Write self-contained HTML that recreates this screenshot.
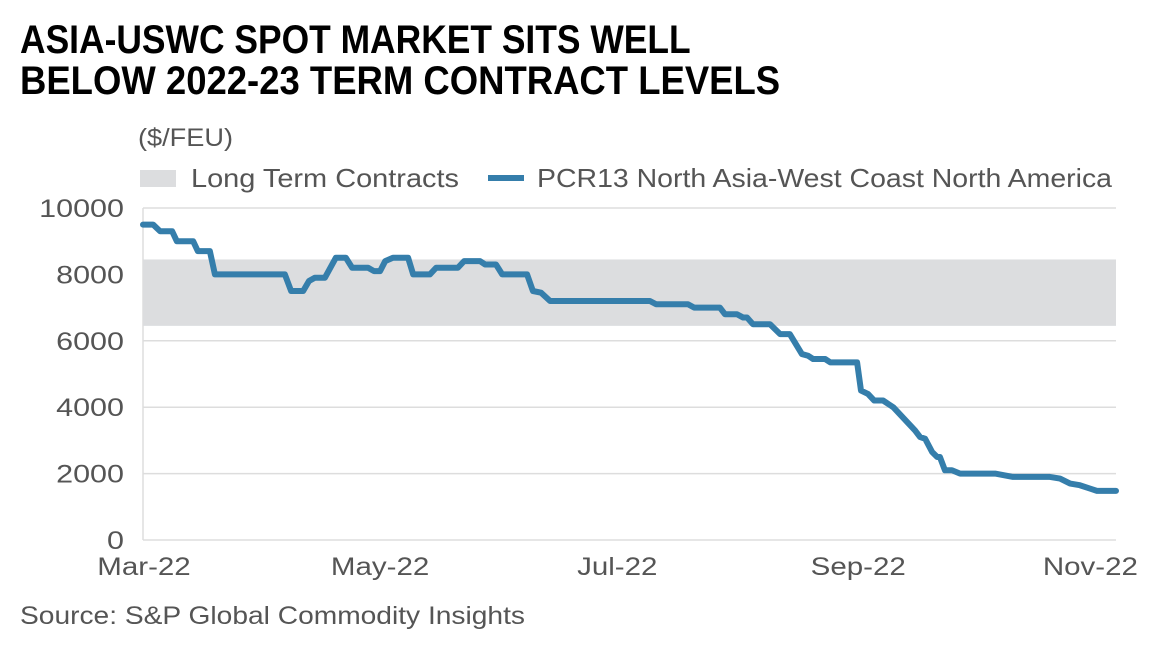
<!DOCTYPE html>
<html><head><meta charset="utf-8"><style>
body{margin:0;background:#fff;width:1166px;height:650px;overflow:hidden;font-family:"Liberation Sans",sans-serif}
.t{position:absolute;left:20px;font-weight:bold;font-size:40px;color:#000;white-space:nowrap;transform-origin:0 0;line-height:1}
</style></head><body>
<div class="t" style="top:20px;transform:scaleX(0.885)">ASIA-USWC SPOT MARKET SITS WELL</div>
<div class="t" style="top:61px;transform:scaleX(0.912)">BELOW 2022-23 TERM CONTRACT LEVELS</div>
<svg id="c" width="1166" height="650" style="position:absolute;left:0;top:0"></svg>
<script>
const days=[0,2.6,4.4,7.5,8.7,12.9,14.1,17.2,18.5,36.5,38.1,41.2,42.7,44.2,46.8,49.6,52.2,53.8,57.9,59.4,61,62.3,64.3,68.2,69.5,73.8,75.4,81,82.6,86.7,88,90.8,92.4,98.8,100.3,102.4,104.7,130.4,132,140.2,141.8,148.4,149.7,152.8,154.4,155.4,156.9,161.3,163.9,166.4,169.5,171.1,172.4,175.5,176.8,183.7,184.7,186.5,188.1,190.4,193,198.6,199.9,201.2,203,204.3,205,206.3,208.1,210.2,219.2,223.8,233.3,235.9,238.5,241,243.6,245.4,250.3];
const values=[9500,9500,9300,9300,9000,9000,8700,8700,8000,8000,7500,7500,7800,7900,7900,8500,8500,8200,8200,8100,8100,8400,8500,8500,8000,8000,8200,8200,8400,8400,8300,8300,8000,8000,7500,7450,7200,7200,7100,7100,7000,7000,6800,6800,6700,6700,6500,6500,6200,6200,5600,5550,5450,5450,5350,5350,4500,4400,4200,4200,4000,3300,3100,3050,2650,2500,2500,2100,2100,2000,2000,1900,1900,1850,1700,1650,1550,1480,1480];
const bandLow=6450, bandHigh=8450;
const yTicks=[0,2000,4000,6000,8000,10000];
const xTickLabels=["Mar-22","May-22","Jul-22","Sep-22","Nov-22"];
const xTickDays=[0,61,122,184,245];
const NS="http://www.w3.org/2000/svg",svg=document.getElementById('c');
const X0=143,X1=1116,Y0=540,Y1=208,D=250.3;
const xs=d=>X0+d/D*(X1-X0), ys=v=>Y0-v/10000*(Y0-Y1);
function mk(t,a){const e=document.createElementNS(NS,t);for(const k in a)e.setAttribute(k,a[k]);svg.appendChild(e);return e;}
function widen(t,f){const w=t.getComputedTextLength();t.setAttribute('textLength',w*f);t.setAttribute('lengthAdjust','spacingAndGlyphs');}
yTicks.forEach(v=>{
 const g=mk('line',{x1:X0,x2:X1,y1:ys(v),y2:ys(v),stroke:'#ddd','stroke-width':1.5});
 
 
 const t=mk('text',{x:124,y:ys(v)+9,'text-anchor':'end','font-size':25,fill:'#555'});t.textContent=v;
 
 
 widen(t,1.22);
});
const ax=mk('line',{x1:X0,x2:X0,y1:Y1,y2:Y0,stroke:'#ddd','stroke-width':1.5});


const band=mk('rect',{x:X0,y:ys(bandHigh),width:X1-X0,height:ys(bandLow)-ys(bandHigh),fill:'#dcdddf'});


xTickDays.forEach((d,i)=>{
 const t=mk('text',{x:i==0?xs(d)+1:(i==4?xs(d)-5:xs(d)),y:575,'text-anchor':'middle','font-size':25,fill:'#555'});t.textContent=xTickLabels[i];
 
 
 widen(t,1.18);
});
const p=mk('polyline',{points:days.map((d,i)=>xs(d)+','+ys(values[i])).join(' '),fill:'none',stroke:'#357eab','stroke-width':6,'stroke-linejoin':'round','stroke-linecap':'round'});


function txt(x,y,s,n,sz,w){const t=mk('text',{x:x,y:y,'font-size':sz,fill:'#555'});t.textContent=s;t.setAttribute('textLength',w);t.setAttribute('lengthAdjust','spacingAndGlyphs');return t;}
txt(138,146,'($/FEU)','y-axis-unit',25,95);
const lr=mk('rect',{x:140,y:170,width:36,height:17,fill:'#dcdddf'});


txt(191,187,'Long Term Contracts','legend-label-contracts',26,268);
const ll=mk('line',{x1:488,x2:524,y1:178,y2:178,stroke:'#357eab','stroke-width':6});


txt(537,187,'PCR13 North Asia-West Coast North America','legend-label-pcr13',26,575);
txt(20,624,'Source: S&P Global Commodity Insights','source-note',25,505);
</script>
</body></html>
